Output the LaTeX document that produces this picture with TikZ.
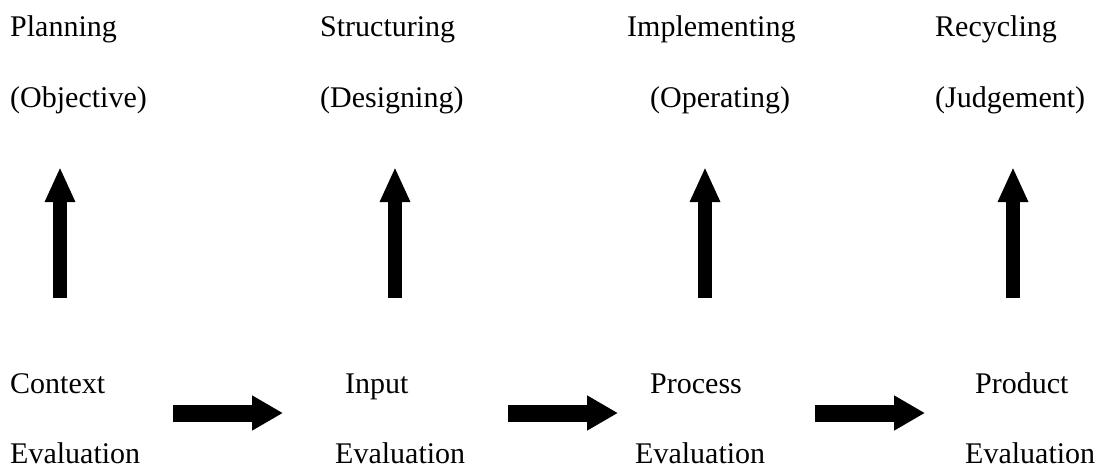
\documentclass[tikz,border=0pt]{standalone}
\usepackage{fontspec}
\setmainfont{Liberation Serif}
\usetikzlibrary{arrows.meta}
\begin{document}
\begin{tikzpicture}[x=1pt,y=-1pt,
  lbl/.style={anchor=base west,inner sep=0pt,font=\fontsize{30}{36}\selectfont},
  uparrow/.style={line width=14pt,-{Triangle[width=28pt,length=35pt]}},
  rightarrow/.style={line width=17pt,-{Triangle[width=33pt,length=31pt]}}]
\useasboundingbox (0,0) rectangle (1099,468);
% top labels
\node[lbl] (plan) at (10,37) {Planning};
\node[lbl] (obj) at (10,107) {(Objective)};
\node[lbl] (struct) at (320,37) {Structuring};
\node[lbl] (des) at (320,107) {(Designing)};
\node[lbl] (impl) at (627,37) {Implementing};
\node[lbl] (oper) at (650,107) {(Operating)};
\node[lbl] (recy) at (935,37) {Recycling};
\node[lbl] (judg) at (935,107) {(Judgement)};
% bottom labels
\node[lbl] (ctx) at (10,393) {Context};
\node[lbl] (ctxe) at (10,463) {Evaluation};
\node[lbl] (inp) at (345,393) {Input};
\node[lbl] (inpe) at (335,463) {Evaluation};
\node[lbl] (proc) at (650,393) {Process};
\node[lbl] (proce) at (635,463) {Evaluation};
\node[lbl] (prod) at (975,393) {Product};
\node[lbl] (prode) at (965,463) {Evaluation};
% arrow end points
\coordinate (u1s) at (60,298); \coordinate (u1e) at (60,167);
\coordinate (u2s) at (395,298); \coordinate (u2e) at (395,167);
\coordinate (u3s) at (705,298); \coordinate (u3e) at (705,167);
\coordinate (u4s) at (1013,298); \coordinate (u4e) at (1013,167);
\coordinate (h1s) at (173,413); \coordinate (h1e) at (283,413);
\coordinate (h2s) at (508,413); \coordinate (h2e) at (618,413);
\coordinate (h3s) at (815,413); \coordinate (h3e) at (925,413);
\draw[uparrow] (u1s) -- (u1e);
\draw[uparrow] (u2s) -- (u2e);
\draw[uparrow] (u3s) -- (u3e);
\draw[uparrow] (u4s) -- (u4e);
\draw[rightarrow] (h1s) -- (h1e);
\draw[rightarrow] (h2s) -- (h2e);
\draw[rightarrow] (h3s) -- (h3e);
\end{tikzpicture}
\end{document}
